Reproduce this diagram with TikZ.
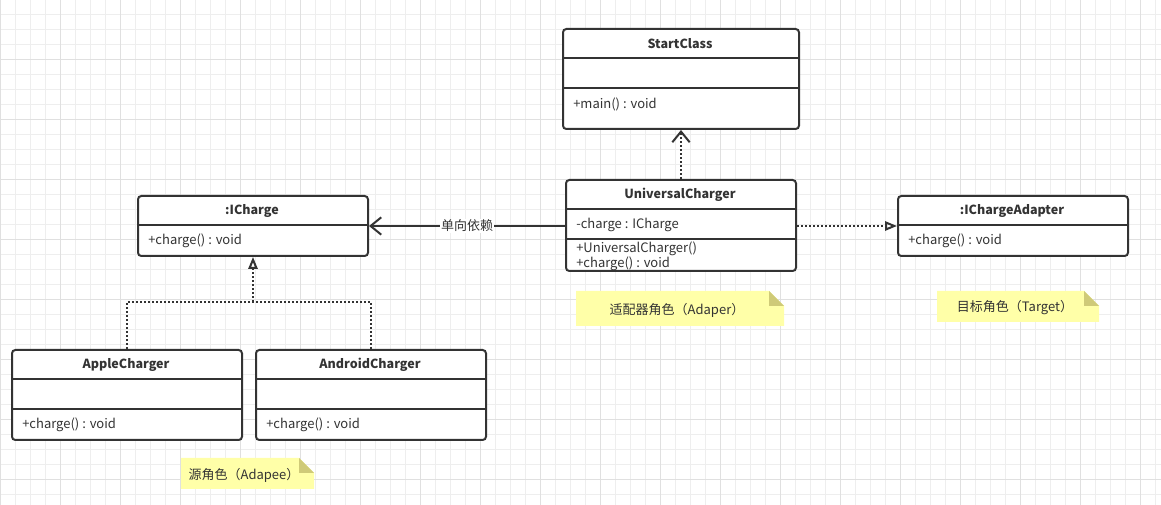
\documentclass[tikz,border=0pt]{standalone}
\usepackage{fontspec}
\setmainfont{Noto Sans CJK SC}
\usetikzlibrary{arrows.meta}
\definecolor{ink}{HTML}{333333}
\definecolor{gminor}{HTML}{EEEEEE}
\definecolor{gmajor}{HTML}{E0E0E0}
\definecolor{notey}{HTML}{FFFFA8}
\definecolor{notefold}{HTML}{CFCA78}
\tikzset{
  gridminor/.style={draw=gminor, line width=0.75pt},
  gridmajor/.style={draw=gmajor, line width=0.75pt},
  classbox/.style={draw=ink, line width=1.5pt, rounded corners=2.5pt, fill=white, inner sep=0pt, anchor=north west},
  divider/.style={draw=ink, line width=1.5pt},
  ctitle/.style={font=\fontsize{9.4}{11}\selectfont\bfseries, inner sep=0pt, text=ink},
  member/.style={anchor=west, inner sep=0pt, text=ink},
  dotline/.style={draw=ink, line width=1.5pt, dash pattern=on 1.5pt off 1.5pt},
  solidline/.style={draw=ink, line width=1.5pt},
  vhead/.style={-{Straight Barb[length=8pt,width=13pt]}},
  trihead/.style={-{Triangle[open,length=9pt,width=7pt]}},
  notetext/.style={inner sep=0pt, text=ink},
}
\begin{document}
\begin{tikzpicture}[x=0.75pt,y=-0.75pt, font=\fontsize{9.75}{11}\selectfont]
\useasboundingbox (0,0) rectangle (1161,505);
\fill[white] (0,0) rectangle (1161,505);
% grid
\foreach \x in {0,15,...,1155} \draw[gridminor] (\x,0) -- (\x,505);
\foreach \y in {0,15,...,495} \draw[gridminor] (0,\y) -- (1161,\y);
\foreach \x in {0,60,...,1140} \draw[gridmajor] (\x,0) -- (\x,505);
\foreach \y in {0,60,...,480} \draw[gridmajor] (0,\y) -- (1161,\y);

% class boxes
\node[classbox, minimum width=236*0.75pt, minimum height=100*0.75pt] (start) at (562,28) {};
\node[classbox, minimum width=230*0.75pt, minimum height=91*0.75pt] (uc) at (565,179) {};
\node[classbox, minimum width=230*0.75pt, minimum height=60*0.75pt] (icharge) at (137,195) {};
\node[classbox, minimum width=230*0.75pt, minimum height=60*0.75pt] (adapter) at (897,195) {};
\node[classbox, minimum width=230*0.75pt, minimum height=90*0.75pt] (apple) at (11,349) {};
\node[classbox, minimum width=230*0.75pt, minimum height=90*0.75pt] (android) at (255,349) {};

% dividers
\draw[divider] (start.west |- 0,58) -- (start.east |- 0,58);
\draw[divider] (start.west |- 0,88) -- (start.east |- 0,88);
\draw[divider] (uc.west |- 0,209) -- (uc.east |- 0,209);
\draw[divider] (uc.west |- 0,239) -- (uc.east |- 0,239);
\draw[divider] (icharge.west |- 0,225) -- (icharge.east |- 0,225);
\draw[divider] (adapter.west |- 0,225) -- (adapter.east |- 0,225);
\draw[divider] (apple.west |- 0,379) -- (apple.east |- 0,379);
\draw[divider] (apple.west |- 0,409) -- (apple.east |- 0,409);
\draw[divider] (android.west |- 0,379) -- (android.east |- 0,379);
\draw[divider] (android.west |- 0,409) -- (android.east |- 0,409);

% texts
\node[ctitle] (t1) at (680,44) {StartClass};
\node[member] (m1) at (573,104) {+main() : void};
\node[ctitle] (t2) at (680,195) {UniversalCharger};
\node[member] (m2a) at (576,225) {-charge : ICharge};
\node[member] (m2b) at (576,249) {+UniversalCharger()};
\node[member] (m2c) at (576,264) {+charge() : void};
\node[ctitle] (t3) at (252,211) {:ICharge};
\node[member] (m3) at (148,241) {+charge() : void};
\node[ctitle] (t4) at (1012,211) {:IChargeAdapter};
\node[member] (m4) at (908,241) {+charge() : void};
\node[ctitle] (t5) at (126,365) {AppleCharger};
\node[member] (m5) at (22,425) {+charge() : void};
\node[ctitle] (t6) at (370,365) {AndroidCharger};
\node[member] (m6) at (266,425) {+charge() : void};

% connectors
\draw[dotline, vhead] (uc.north) -- (start.south);
\draw[solidline, vhead] (uc.west |- icharge.east) -- node[fill=white, inner sep=1pt, text=ink] (lbl) {单向依赖} (icharge.east);
\draw[dotline, trihead] (uc.east |- adapter.west) -- (adapter.west);
\coordinate (j) at (icharge.south |- 0,302);
\draw[dotline] (apple.north) |- (j) -| (android.north);
\draw[dotline, trihead] (j) -- (icharge.south);

% notes
\fill[notey] (576,291) -- (769,291) -- (784,306) -- (784,326) -- (576,326) -- cycle;
\fill[notefold] (769,291) -- (784,306) -- (769,306) -- cycle;
\node[notetext] (n1) at (677,310) {适配器角色（Adaper）};
\fill[notey] (937,291) -- (1084,291) -- (1099,306) -- (1099,322) -- (937,322) -- cycle;
\fill[notefold] (1084,291) -- (1099,306) -- (1084,306) -- cycle;
\node[notetext] (n2) at (1015,308) {目标角色（Target）};
\fill[notey] (181,458) -- (299,458) -- (314,473) -- (314,489) -- (181,489) -- cycle;
\fill[notefold] (299,458) -- (314,473) -- (299,473) -- cycle;
\node[notetext] (n3) at (244,475) {源角色（Adapee）};
\end{tikzpicture}
\end{document}
